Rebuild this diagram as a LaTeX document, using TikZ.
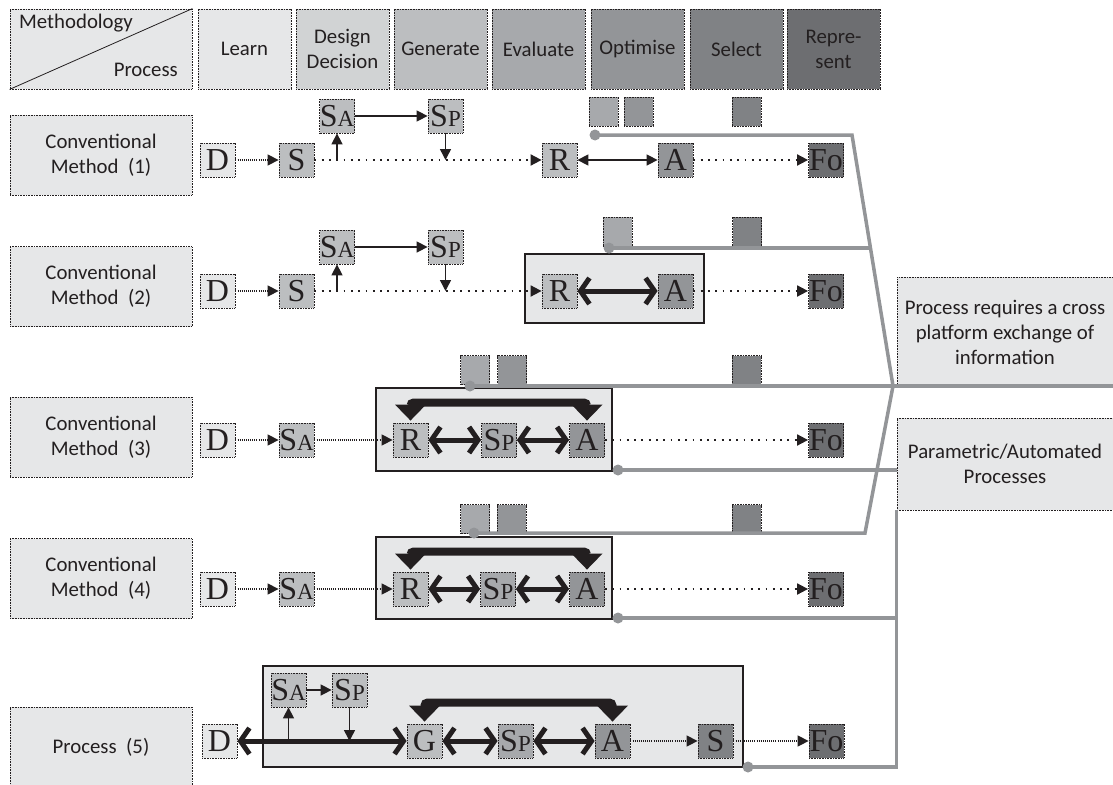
\documentclass[tikz,border=0pt]{standalone}
\usepackage{fontspec}
\setmainfont{Carlito}
\newfontfamily\tmfont{Liberation Serif}
\usetikzlibrary{arrows.meta,calc}
\definecolor{g10}{HTML}{E6E7E8}
\definecolor{g20}{HTML}{D1D3D4}
\definecolor{g30}{HTML}{BCBEC0}
\definecolor{g40}{HTML}{A7A9AC}
\definecolor{g50}{HTML}{939598}
\definecolor{g60}{HTML}{808285}
\definecolor{g70}{HTML}{6D6E71}
\definecolor{ink}{HTML}{231F20}
\newcommand\smc[1]{{\fontsize{23}{23}\selectfont #1}}
\tikzset{
 dotb/.style={draw=ink, dash pattern=on .8pt off .8pt, line width=.8pt},
 hdr/.style={dotb, minimum width=93pt, minimum height=80pt, inner sep=0pt, align=center, text=ink, font=\fontsize{20.8}{25}\selectfont},
 lab/.style={hdr, fill=g10, minimum width=182pt},
 bx/.style={dotb, minimum width=35pt, minimum height=34pt, inner sep=0pt, text=ink, font=\tmfont\fontsize{32}{32}\selectfont},
 sq/.style={dotb, minimum width=29pt, minimum height=29pt, inner sep=0pt},
 cont/.style={draw=ink, line width=1.2pt, fill=g10, inner sep=0pt},
 gl/.style={draw=g50, line width=3.5pt},
 gdot/.style={fill=g50},
 dotA/.style={draw=ink, line width=1.4pt, dash pattern=on 1pt off 1.1pt, -{Triangle[length=11pt,width=11pt]}},
 dotB/.style={draw=ink, line width=1.8pt, dash pattern=on 1.8pt off 5.5pt, -{Triangle[length=11pt,width=11pt]}},
 thinar/.style={draw=ink, line width=1.5pt, -{Triangle[length=11pt,width=11pt]}},
 dblthin/.style={draw=ink, line width=1.5pt, {Triangle[length=11pt,width=11pt]}-{Triangle[length=11pt,width=11pt]}},
 thickar/.style={draw=ink, line width=5pt, {Straight Barb[length=9pt,width=26pt]}-{Straight Barb[length=9pt,width=26pt]}},
 bigar/.style={draw=ink, line width=8pt, rounded corners=3pt, {Triangle[length=16pt,width=30pt]}-{Triangle[length=16pt,width=30pt]}},
}
\begin{document}
\begin{tikzpicture}[x=1pt,y=-1pt]
\useasboundingbox (0,0) rectangle (1113,784);
\clip (0,0) rectangle (1113,784);
% header
\node[hdr,fill=g10,minimum width=182pt] (M) at (101,49) {};
\draw[ink,line width=.8pt] (M.south west) -- (M.north east);
\node[inner sep=0pt,anchor=west,text=ink,font=\fontsize{20.8}{25}\selectfont] (tMeth) at (19,23) {Methodology};
\node[inner sep=0pt,anchor=east,text=ink,font=\fontsize{20.8}{25}\selectfont] (tProc) at (178,70) {Process};
\node[hdr,fill=g10] (hL) at (244.5,49) {Learn};
\node[hdr,fill=g20] (hD) at (342.5,49) {Design\\Decision};
\node[hdr,fill=g30] (hG) at (440.5,49) {Generate};
\node[hdr,fill=g40] (hE) at (538.5,49) {Evaluate};
\node[hdr,fill=g50] (hO) at (637.5,49) {Optimise};
\node[hdr,fill=g60] (hS) at (736.5,49) {Select};
\node[hdr,fill=g70] (hR) at (833.5,49) {Repre-\\sent};
% left labels
\node[lab] (L1) at (101,155) {Conventional\\Method\ \ (1)};
\node[lab] (L2) at (101,286.5) {Conventional\\Method\ \ (2)};
\node[lab] (L3) at (101,437) {Conventional\\Method\ \ (3)};
\node[lab] (L4) at (101,578.5) {Conventional\\Method\ \ (4)};
\node[lab] (L5) at (101,747) {Process\ \ (5)};
% right boxes
\node[lab,minimum width=216pt,minimum height=110pt] (X) at (1005,332) {Process requires a cross\\platform exchange of\\information};
\node[lab,minimum width=216pt,minimum height=92pt] (P) at (1005,464) {Parametric/Automated\\Processes};
% containers
\node[cont,minimum width=179pt,minimum height=69pt] (C2) at (614.5,288.5) {};
\node[cont,minimum width=236pt,minimum height=83pt] (C3) at (494,429.5) {};
\node[cont,minimum width=236pt,minimum height=82pt] (C4) at (494,578) {};
\node[cont,minimum width=480pt,minimum height=101pt] (C5) at (503,716.5) {};
% small squares
\node[sq,fill=g40] (q11) at (603.5,111.5) {};
\node[sq,fill=g50] (q12) at (638.5,111.5) {};
\node[sq,fill=g60] (q13) at (746.5,111.5) {};
\node[sq,fill=g40] (q21) at (617.5,231.5) {};
\node[sq,fill=g60] (q22) at (747,231.5) {};
\node[sq,fill=g40] (q31) at (475,370) {};
\node[sq,fill=g50] (q32) at (512,370) {};
\node[sq,fill=g60] (q33) at (746.5,370) {};
\node[sq,fill=g40] (q41) at (475,519) {};
\node[sq,fill=g50] (q42) at (511.5,519) {};
\node[sq,fill=g60] (q43) at (746.5,519) {};
% gray connector lines
\coordinate (d1) at (595,135);
\coordinate (d2) at (609,248);
\coordinate (d3) at (470,386);
\coordinate (d4) at (474,533);
\coordinate (d5) at (618,470);
\coordinate (d6) at (618,618);
\coordinate (d7) at (748,767);
\coordinate (j1) at (852,135);
\coordinate (j2) at (893,386);
\coordinate (j3) at (865,533);
\coordinate (k2) at (870.5,248);
\draw[gl] (d1) -- (j1) -- (j2);
\draw[gl] (d2) -- (k2);
\draw[gl] (d3) -- (d3 -| X.east);
\draw[gl] (j2) -- (j3) -- (d4);
\draw[gl] (d5) -- (d5 -| P.west);
\draw[gl] (d6) -- (d6 -| P.west);
\draw[gl] (d7) -- (d7 -| P.south west) -- (P.south west);
\foreach \d in {d1,d2,d3,d4,d5,d6,d7} \fill[gdot] (\d) circle[radius=5.5pt];
% row 1
\node[bx,fill=g10] (D1) at (217.5,160) {D};
\node[bx,fill=g30] (S1) at (296.5,160) {S};
\node[bx,fill=g30] (SA1) at (337,116) {S\smc{A}};
\node[bx,fill=g30] (SP1) at (445.5,116) {S\smc{P}};
\node[bx,fill=g30] (R1) at (559.5,160) {R};
\node[bx,fill=g50] (A1) at (675.5,160) {A};
\node[bx,fill=g70] (F1) at (826,160) {Fo};
\draw[dotA] (D1) -- (S1);
\draw[dotB] (S1) -- (R1);
\draw[thinar] (SA1.south |- S1.east) -- (SA1.south);
\draw[thinar] (SP1.south) -- (SP1.south |- R1.west);
\draw[thinar] (SA1) -- (SP1);
\draw[dblthin] (R1) -- (A1);
\draw[dotB] (A1) -- (F1);
% row 2
\node[bx,fill=g10] (D2) at (217.5,291) {D};
\node[bx,fill=g30] (S2) at (296.5,291) {S};
\node[bx,fill=g30] (SA2) at (337,247) {S\smc{A}};
\node[bx,fill=g30] (SP2) at (445.5,247) {S\smc{P}};
\node[bx,fill=g30] (R2) at (559.5,291) {R};
\node[bx,fill=g50] (A2) at (675.5,291) {A};
\node[bx,fill=g70] (F2) at (826,291) {Fo};
\draw[dotA] (D2) -- (S2);
\draw[dotB] (S2) -- (R2);
\draw[thinar] (SA2.south |- S2.east) -- (SA2.south);
\draw[thinar] (SP2.south) -- (SP2.south |- R2.west);
\draw[thinar] (SA2) -- (SP2);
\draw[thickar] (R2) -- (A2);
\draw[dotB] (A2) -- (F2);
% row 3
\node[bx,fill=g10] (D3) at (217.5,440) {D};
\node[bx,fill=g30] (SA3) at (296.5,440) {S\smc{A}};
\node[bx,fill=g30] (R3) at (410.5,440) {R};
\node[bx,fill=g40] (SP3) at (499,440) {S\smc{P}};
\node[bx,fill=g50] (A3) at (587,440) {A};
\node[bx,fill=g70] (F3) at (826,440) {Fo};
\draw[dotA] (D3) -- (SA3);
\draw[dotA] (SA3) -- (R3);
\draw[thickar] (R3) -- (SP3);
\draw[thickar] (SP3) -- (A3);
\draw[dotB] (A3) -- (F3);
\draw[bigar] ([yshift=2pt]R3.north) |- ($(R3.north)!.5!(A3.north)+(0,-20)$) -| ([yshift=2pt]A3.north);
% row 4
\node[bx,fill=g10] (D4) at (217.5,589) {D};
\node[bx,fill=g30] (SA4) at (296.5,589) {S\smc{A}};
\node[bx,fill=g30] (R4) at (410.5,589) {R};
\node[bx,fill=g40] (SP4) at (498,589) {S\smc{P}};
\node[bx,fill=g50] (A4) at (587,589) {A};
\node[bx,fill=g70] (F4) at (826,589) {Fo};
\draw[dotA] (D4) -- (SA4);
\draw[dotA] (SA4) -- (R4);
\draw[thickar] (R4) -- (SP4);
\draw[thickar] (SP4) -- (A4);
\draw[dotB] (A4) -- (F4);
\draw[bigar] ([yshift=2pt]R4.north) |- ($(R4.north)!.5!(A4.north)+(0,-20)$) -| ([yshift=2pt]A4.north);
% row 5
\node[bx,fill=g10] (D5) at (219.5,741) {D};
\node[bx,fill=g30] (SA5) at (288.5,690) {S\smc{A}};
\node[bx,fill=g30] (SP5) at (349.5,690) {S\smc{P}};
\node[bx,fill=g30] (G5) at (424.5,741) {G};
\node[bx,fill=g40] (SQ5) at (515.5,741) {S\smc{P}};
\node[bx,fill=g50] (A5) at (612.5,741) {A};
\node[bx,fill=g60] (S5) at (715.5,741) {S};
\node[bx,fill=g70] (F5) at (826.5,741) {Fo};
\draw[thickar] (D5) -- (G5);
\draw[thinar] (SA5.south |- D5.east) -- (SA5.south);
\draw[thinar] (SP5.south) -- (SP5.south |- G5.west);
\draw[thinar] (SA5) -- (SP5);
\draw[thickar] (G5) -- (SQ5);
\draw[thickar] (SQ5) -- (A5);
\draw[dotA] (A5) -- (S5);
\draw[dotA] (S5) -- (F5);
\draw[bigar] ([yshift=2pt]G5.north) |- ($(G5.north)!.5!(A5.north)+(0,-21)$) -| ([yshift=2pt]A5.north);
\end{tikzpicture}
\end{document}
